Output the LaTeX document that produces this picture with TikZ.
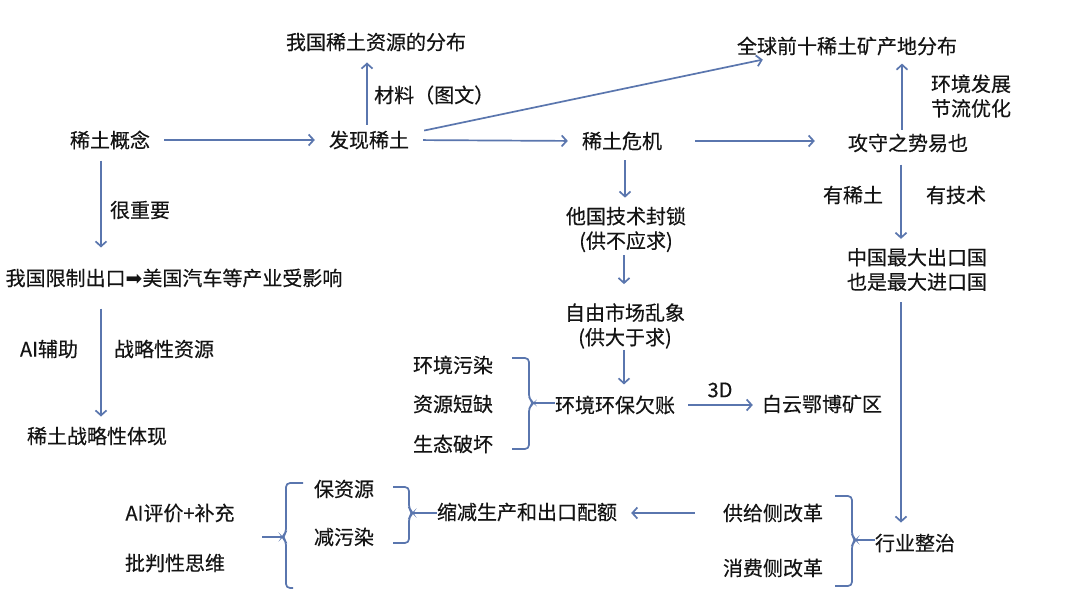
\documentclass[tikz,border=0pt]{standalone}
\usepackage{fontspec}
\setmainfont{Noto Sans CJK SC}[FakeBold=0.35]
\newfontfamily\symfont{DejaVu Sans}
\usetikzlibrary{arrows.meta}
\definecolor{arrc}{RGB}{90,118,174}
\definecolor{txtc}{RGB}{20,20,20}
\begin{document}
\begin{tikzpicture}[x=1pt,y=-1pt,
  lbl/.style={font=\fontsize{20pt}{24.5pt}\selectfont, inner sep=0pt, text=txtc, align=center},
  arr/.style={draw=arrc, line width=1.7pt, -{Straight Barb[length=5pt,width=11pt]}},
  brace/.style={draw=arrc, line width=1.7pt, rounded corners=4pt},
  link/.style={draw=arrc, line width=1.7pt}]
\useasboundingbox[fill=white] (0,0) rectangle (1080,590);

% nodes
\node[lbl] (woguo) at (376,42) {我国稀土资源的分布};
\node[lbl, anchor=west] (cailiao) at (374,95) {材料（图文）};
\node[lbl] (quanqiu) at (847,46) {全球前十稀土矿产地分布};
\node[lbl] (hjfz) at (971,96) {环境发展\\节流优化};
\node[lbl] (gainian) at (110,140) {稀土概念};
\node[lbl] (faxian) at (369,140) {发现稀土};
\node[lbl] (weiji) at (622,141) {稀土危机};
\node[lbl] (gongshou) at (908,143) {攻守之势易也};
\node[lbl] (henzy) at (140,210) {很重要};
\node[lbl] (youxt) at (853,195) {有稀土};
\node[lbl] (youjs) at (956,195) {有技术};
\node[lbl] (taguo) at (626,229.5) {他国技术封锁\\(供不应求)};
\node[lbl] (zhongguo) at (917,269.5) {中国最大出口国\\也是最大进口国};
\node[lbl] (xianzhi) at (174,278) {我国限制出口{\symfont ➡}美国汽车等产业受影响};
\node[lbl] (ziyou) at (625,326) {自由市场乱象\\(供大于求)};
\node[lbl] (aifz) at (49,349) {AI辅助};
\node[lbl] (zlxzy) at (164,349) {战略性资源};
\node[lbl] (hjwr) at (453,365) {环境污染};
\node[lbl] (zydq) at (453,404) {资源短缺};
\node[lbl] (stph) at (453,444) {生态破坏};
\node[lbl] (huanjing) at (615,405) {环境环保欠账};
\node[lbl] (sanD) at (720,390) {3D};
\node[lbl] (baiyun) at (822,404) {白云鄂博矿区};
\node[lbl] (zltx) at (97,436) {稀土战略性体现};
\node[lbl] (bzy) at (344,489) {保资源};
\node[lbl] (jwr) at (344,537) {减污染};
\node[lbl] (suojian) at (527,512) {缩减生产和出口配额};
\node[lbl] (gongji) at (773,513) {供给侧改革};
\node[lbl] (xiaofei) at (773,568) {消费侧改革};
\node[lbl] (hangye) at (915,543) {行业整治};
\node[lbl] (aipj) at (180,513) {AI评价+补充};
\node[lbl] (ppxsw) at (175,563) {批判性思维};

% arrows
\draw[arr, shorten <=14pt, shorten >=14pt] (gainian.east) -- (faxian.west);
\draw[arr, shorten <=6pt, shorten >=11pt] ([xshift=-2pt]faxian.north) -- ([xshift=-2pt]faxian.north |- woguo.south);
\draw[arr] ([xshift=15pt]faxian.north east) -- ([xshift=26pt,yshift=-4pt]quanqiu.south west);
\draw[arr, shorten <=14pt, shorten >=14pt] (faxian.east) -- (weiji.west);
\draw[arr, shorten <=33pt, shorten >=33pt] (weiji.east) -- (weiji.east -| gongshou.west);
\draw[arr, shorten <=4pt, shorten >=8pt] ([xshift=-6pt]gongshou.north) -- ([xshift=-6pt]gongshou.north |- quanqiu.south);
\draw[arr, shorten <=12pt, shorten >=9pt] ([xshift=-7pt]gongshou.south) -- ([xshift=-7pt]gongshou.south |- zhongguo.north);
\draw[arr, shorten <=10pt, shorten >=9pt] ([xshift=3pt]weiji.south) -- ([xshift=3pt]weiji.south |- taguo.north);
\draw[arr, shorten <=3pt, shorten >=19pt] ([xshift=-2pt]taguo.south) -- ([xshift=-2pt]taguo.south |- ziyou.north);
\draw[arr, shorten <=1pt, shorten >=11pt] ([xshift=-1pt]ziyou.south) -- ([xshift=-1pt]ziyou.south |- huanjing.north);
\draw[arr, shorten <=13pt, shorten >=9pt] (huanjing.east) -- (huanjing.east -| baiyun.west);
\draw[arr, shorten <=11pt, shorten >=11pt] ([xshift=-16pt]zhongguo.south) -- ([xshift=-16pt]zhongguo.south |- hangye.north);
\draw[arr, shorten <=28pt, shorten >=14pt] (gongji.west) -- (gongji.west -| suojian.east);
\draw[arr, shorten <=11pt, shorten >=21pt] ([xshift=-9pt]gainian.south) -- ([xshift=-9pt]gainian.south |- xianzhi.north);
\draw[arr, shorten <=21pt, shorten >=10pt] ([xshift=-73pt]xianzhi.south) -- ([xshift=-73pt]xianzhi.south |- zltx.north);

% braces
\draw[brace] (512,358) -- (529,358) -- (529,399) -- (534,403) -- (529,407) -- (529,449) -- (512,449);
\coordinate (t1) at (534,403);
\draw[link] (t1) -- (t1 -| huanjing.west);

\draw[brace] (393,487) -- (409,487) -- (409,509) -- (413,513) -- (409,517) -- (409,543) -- (393,543);
\coordinate (t2) at (413,513);
\draw[link] (t2) -- (t2 -| suojian.west);

\draw[brace] (835,496) -- (852,496) -- (852,536) -- (856,540) -- (852,544) -- (852,586) -- (835,586);
\coordinate (t3) at (856,540);
\draw[link] (t3) -- (t3 -| hangye.west);

\draw[brace] (303,483) -- (286,483) -- (286,533) -- (282,537) -- (286,541) -- (286,588) -- (293,588);
\coordinate (t4) at (282,537);
\coordinate (t4end) at (262,537);
\draw[link] (t4) -- (t4end);
\end{tikzpicture}
\end{document}
